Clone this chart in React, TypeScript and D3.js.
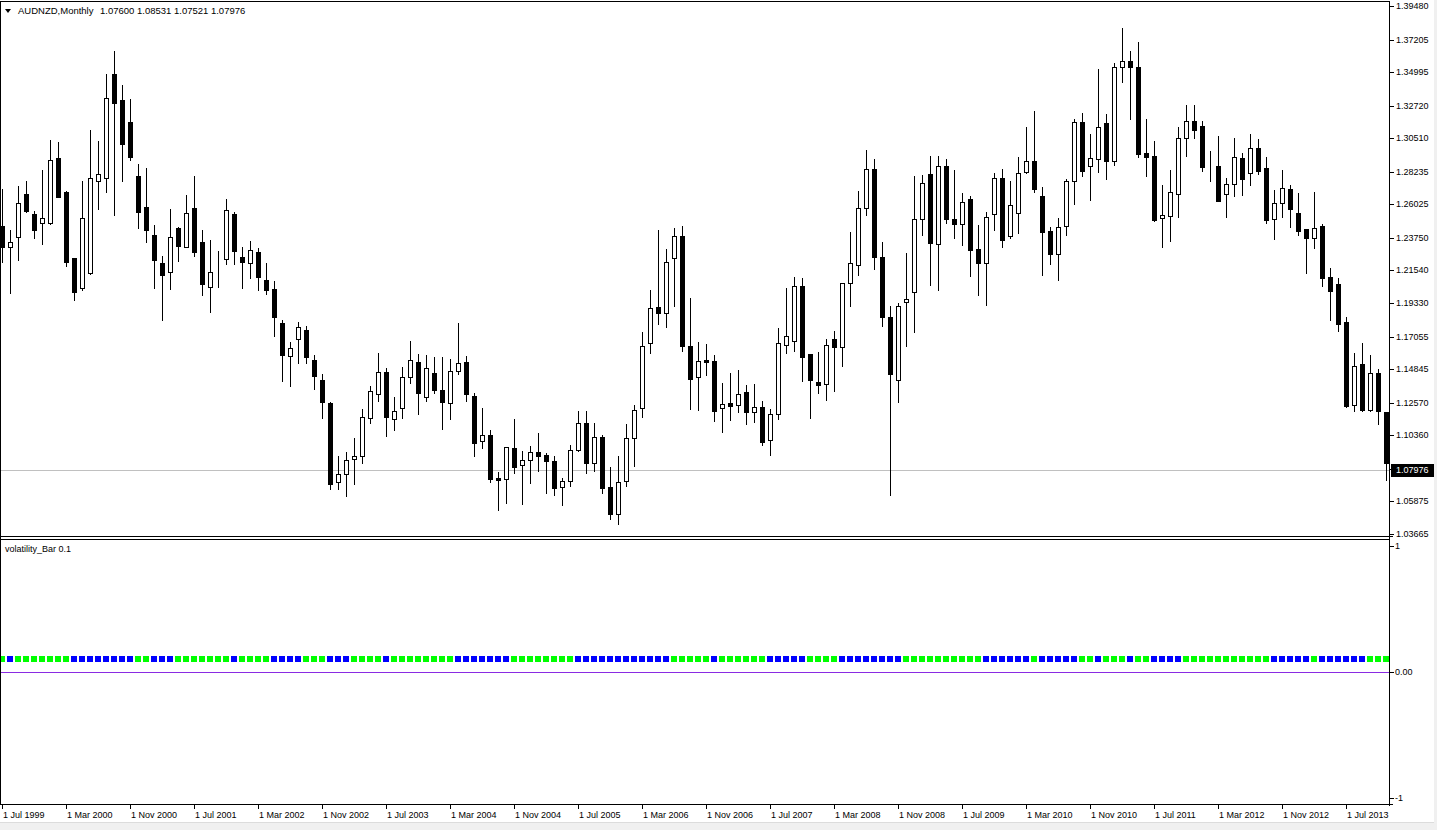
import React from "react";
import * as d3 from "d3";

// ---- Data (AUDNZD monthly, Jul 1999 .. Dec 2013) ----
const openP = [
  1.2454, 1.2316, 1.2384, 1.2674, 1.2538, 1.2477, 1.2473, 1.2917, 1.2685, 1.2239,
  1.2038, 1.2139, 1.2758, 1.2783, 1.3486, 1.3311, 1.3162, 1.2795, 1.2585, 1.2396,
  1.2204, 1.2146, 1.2442, 1.2316, 1.2578, 1.2347, 1.2041, 1.2195, 1.2230, 1.2538,
  1.2246, 1.2202, 1.2279, 1.2090, 1.2029, 1.1800, 1.1571, 1.1688, 1.1751, 1.1548,
  1.1412, 1.1256, 1.0718, 1.0772, 1.0873, 1.0894, 1.1151, 1.1314, 1.1466, 1.1144,
  1.1218, 1.1429, 1.1534, 1.1295, 1.1459, 1.1344, 1.1253, 1.1473, 1.1534, 1.1302,
  1.0999, 1.1036, 1.0746, 1.0737, 1.0950, 1.0833, 1.0870, 1.0924, 1.0900, 1.0859,
  1.0683, 1.0723, 1.0933, 1.1120, 1.0847, 1.1024, 1.0686, 1.0501, 1.0723, 1.1015,
  1.1218, 1.1660, 1.1907, 1.1863, 1.2237, 1.2386, 1.1639, 1.1429, 1.1548, 1.1541,
  1.1218, 1.1256, 1.1239, 1.1330, 1.1193, 1.1225, 1.1003, 1.1181, 1.1646, 1.1674,
  1.2050, 1.1587, 1.1398, 1.1382, 1.1688, 1.1634, 1.2066, 1.2190, 1.2575, 1.2842,
  1.2246, 1.1837, 1.1410, 1.1938, 1.2008, 1.2501, 1.2809, 1.2337, 1.2863, 1.2503,
  1.2466, 1.2638, 1.2300, 1.2206, 1.2536, 1.2781, 1.2388, 1.2547, 1.2821, 1.2898,
  1.2657, 1.2421, 1.2268, 1.2458, 1.2758, 1.3162, 1.2860, 1.2912, 1.3155, 1.2900,
  1.3533, 1.3573, 1.3533, 1.2949, 1.2930, 1.2508, 1.2526, 1.2676, 1.3050, 1.3166,
  1.3134, 1.2861, 1.2863, 1.2676, 1.2739, 1.2914, 1.2814, 1.2982, 1.2849, 1.2501,
  1.2615, 1.2706, 1.2545, 1.2433, 1.2377, 1.2456, 1.2111, 1.2059, 1.1802, 1.1244,
  1.1520, 1.1205, 1.1459, 1.1193,
];
const highP = [
  1.2704, 1.2428, 1.2727, 1.2758, 1.2559, 1.2835, 1.3036, 1.3026, 1.2690, 1.2242,
  1.2758, 1.3108, 1.3029, 1.3489, 1.3643, 1.3414, 1.3318, 1.2877, 1.2851, 1.2463,
  1.2249, 1.2573, 1.2452, 1.2667, 1.2795, 1.2428, 1.2363, 1.2286, 1.2641, 1.2552,
  1.2316, 1.2354, 1.2309, 1.2206, 1.2083, 1.1821, 1.1672, 1.1805, 1.1779, 1.1583,
  1.1454, 1.1260, 1.0898, 1.0924, 1.1017, 1.1216, 1.1368, 1.1592, 1.1494, 1.1295,
  1.1499, 1.1676, 1.1587, 1.1583, 1.1566, 1.1566, 1.1555, 1.1800, 1.1571, 1.1326,
  1.1221, 1.1069, 1.0784, 1.0960, 1.1148, 1.0929, 1.0964, 1.1052, 1.0915, 1.0894,
  1.0746, 1.0971, 1.1202, 1.1202, 1.1120, 1.1041, 1.0821, 1.0898, 1.1111, 1.1242,
  1.1737, 1.2020, 1.2431, 1.2302, 1.2442, 1.2456, 1.1968, 1.1669, 1.1657, 1.1583,
  1.1391, 1.1459, 1.1478, 1.1377, 1.1384, 1.1267, 1.1214, 1.1765, 1.2038, 1.2111,
  1.2106, 1.1590, 1.1601, 1.1688, 1.1742, 1.2070, 1.2414, 1.2692, 1.2970, 1.2910,
  1.2344, 1.1914, 1.1933, 1.2272, 1.2797, 1.2802, 1.2930, 1.2930, 1.2910, 1.2835,
  1.2681, 1.2657, 1.2463, 1.2550, 1.2816, 1.2842, 1.2760, 1.2926, 1.3127, 1.3237,
  1.2720, 1.2446, 1.2512, 1.2776, 1.3180, 1.3225, 1.3080, 1.3522, 1.3216, 1.3561,
  1.3802, 1.3643, 1.3706, 1.3180, 1.3033, 1.2734, 1.2837, 1.3124, 1.3277, 1.3277,
  1.3166, 1.2965, 1.3066, 1.2781, 1.3052, 1.2952, 1.3078, 1.3045, 1.2924, 1.2697,
  1.2835, 1.2734, 1.2681, 1.2436, 1.2688, 1.2468, 1.2171, 1.2104, 1.1837, 1.1594,
  1.1662, 1.1583, 1.1489, 1.1197,
];
const lowP = [
  1.2213, 1.2003, 1.2225, 1.2552, 1.2372, 1.2335, 1.2470, 1.2652, 1.2183, 1.1957,
  1.2020, 1.2132, 1.2568, 1.2688, 1.2533, 1.2762, 1.2902, 1.2445, 1.2349, 1.2038,
  1.1821, 1.2031, 1.2220, 1.2313, 1.2253, 1.1985, 1.1875, 1.2045, 1.2199, 1.2195,
  1.2038, 1.2101, 1.2020, 1.1992, 1.1711, 1.1403, 1.1368, 1.1524, 1.1524, 1.1349,
  1.1151, 1.0672, 1.0672, 1.0625, 1.0707, 1.0847, 1.1120, 1.1267, 1.1029, 1.1074,
  1.1151, 1.1389, 1.1179, 1.1267, 1.1323, 1.1078, 1.1144, 1.1450, 1.1267, 1.0894,
  1.0947, 1.0718, 1.0527, 1.0578, 1.0782, 1.0567, 1.0714, 1.0796, 1.0644, 1.0634,
  1.0562, 1.0695, 1.0929, 1.0777, 1.0796, 1.0648, 1.0468, 1.0433, 1.0695, 1.0831,
  1.1162, 1.1594, 1.1793, 1.1770, 1.1910, 1.1611, 1.1216, 1.1209, 1.1443, 1.1134,
  1.1055, 1.1137, 1.1193, 1.1111, 1.1125, 1.0968, 1.0900, 1.1144, 1.1592, 1.1606,
  1.1405, 1.1151, 1.1323, 1.1274, 1.1335, 1.1506, 1.1914, 1.2125, 1.2529, 1.2162,
  1.1777, 1.0630, 1.1263, 1.1641, 1.1735, 1.2398, 1.2055, 1.2020, 1.2475, 1.2377,
  1.2330, 1.2115, 1.1985, 1.1921, 1.2431, 1.2314, 1.2377, 1.2405, 1.2814, 1.2688,
  1.2120, 1.2199, 1.2092, 1.2398, 1.2608, 1.2797, 1.2634, 1.2821, 1.2776, 1.2872,
  1.3435, 1.3183, 1.2926, 1.2797, 1.2487, 1.2314, 1.2354, 1.2517, 1.2933, 1.3054,
  1.2830, 1.2762, 1.2622, 1.2517, 1.2657, 1.2664, 1.2734, 1.2807, 1.2475, 1.2370,
  1.2517, 1.2452, 1.2398, 1.2139, 1.2307, 1.2050, 1.1816, 1.1744, 1.1228, 1.1198,
  1.1200, 1.1200, 1.1116, 1.0730,
];
const closeP = [
  1.2316, 1.2349, 1.2610, 1.2559, 1.2431, 1.2510, 1.2902, 1.2655, 1.2213, 1.2010,
  1.2510, 1.2781, 1.2807, 1.3323, 1.3288, 1.3015, 1.2926, 1.2552, 1.2431, 1.2227,
  1.2120, 1.2382, 1.2323, 1.2545, 1.2281, 1.2062, 1.2143, 1.2199, 1.2564, 1.2288,
  1.2213, 1.2291, 1.2113, 1.2024, 1.1837, 1.1578, 1.1629, 1.1770, 1.1564, 1.1436,
  1.1260, 1.0704, 1.0772, 1.0868, 1.0894, 1.1158, 1.1335, 1.1466, 1.1158, 1.1202,
  1.1431, 1.1545, 1.1323, 1.1492, 1.1342, 1.1260, 1.1473, 1.1527, 1.1314, 1.0987,
  1.1036, 1.0742, 1.0735, 1.0957, 1.0824, 1.0868, 1.0924, 1.0898, 1.0859, 1.0681,
  1.0725, 1.0936, 1.1120, 1.0845, 1.1022, 1.0681, 1.0501, 1.0718, 1.1017, 1.1211,
  1.1641, 1.1898, 1.1863, 1.2209, 1.2386, 1.1639, 1.1419, 1.1538, 1.1536, 1.1200,
  1.1249, 1.1232, 1.1314, 1.1193, 1.1225, 1.0990, 1.1179, 1.1660, 1.1707, 1.2050,
  1.1564, 1.1408, 1.1380, 1.1646, 1.1634, 1.2066, 1.2202, 1.2578, 1.2842, 1.2243,
  1.1837, 1.1450, 1.1912, 1.1959, 1.2503, 1.2746, 1.2342, 1.2863, 1.2501, 1.2466,
  1.2617, 1.2295, 1.2206, 1.2515, 1.2781, 1.2358, 1.2597, 1.2814, 1.2898, 1.2704,
  1.2417, 1.2268, 1.2446, 1.2760, 1.3162, 1.2830, 1.2914, 1.3127, 1.2900, 1.3533,
  1.3573, 1.3536, 1.2947, 1.2926, 1.2499, 1.2529, 1.2685, 1.3050, 1.3166, 1.3106,
  1.2858, 1.2865, 1.2627, 1.2739, 1.2921, 1.2776, 1.2982, 1.2830, 1.2499, 1.2615,
  1.2711, 1.2568, 1.2424, 1.2377, 1.2442, 1.2106, 1.2017, 1.1788, 1.1235, 1.1503,
  1.1205, 1.1459, 1.1198, 1.0847,
];
// volatility_Bar state per bar: G = lime, B = blue
const volState = (
  "G" + "B" + "GGGGGGG" + "BBBBBBBB" + "GG" + "BBB" + "GGGGGGG" + "B" + "GGGG" +
  "BBBB" + "GGG" + "BBB" + "GGGG" + "B" + "GGGGGGGG" + "BBBBBBB" + "GGGGGGGG" +
  "BBBBBBBBBBBB" + "GGGGG" + "B" + "GGGGGG" + "BBBBB" + "GGGG" + "BBBBBBBB" +
  "GGGGGGGGGG" + "BBBBBB" + "G" + "BBBBB" + "GG" + "B" + "GGG" + "B" + "GG" +
  "BBBB" + "GGGGGGGGGGG" + "BBBBB" + "G" + "BBBBBB" + "GGG"
).split("");
const volLevel = 0.1;

const priceTicks = [
  1.3948, 1.37205, 1.34995, 1.3272, 1.3051, 1.28235, 1.26025, 1.2375, 1.2154,
  1.1933, 1.17055, 1.14845, 1.1257, 1.1036, 1.08085, 1.05875, 1.03665,
];
const priceMin = 1.03665;
const priceMax = 1.3948;
const lastPrice = 1.07976;
const indTicks = [1, 0, -1];
const indTickLabels = ["1", "0.00", "-1"];
const dateLabels = [
  "1 Jul 1999", "1 Mar 2000", "1 Nov 2000", "1 Jul 2001", "1 Mar 2002", "1 Nov 2002",
  "1 Jul 2003", "1 Mar 2004", "1 Nov 2004", "1 Jul 2005", "1 Mar 2006", "1 Nov 2006",
  "1 Jul 2007", "1 Mar 2008", "1 Nov 2008", "1 Jul 2009", "1 Mar 2010", "1 Nov 2010",
  "1 Jul 2011", "1 Mar 2012", "1 Nov 2012", "1 Jul 2013",
];
const dateLabelBar = [0, 8, 16, 24, 32, 40, 48, 56, 64, 72, 80, 88, 96, 104, 112, 120, 128, 136, 144, 152, 160, 168];
const symbolText = "AUDNZD,Monthly";
const ohlcText = "1.07600 1.08531 1.07521 1.07976";
const indicatorName = "volatility_Bar 0.1";

const FONT = "'Liberation Sans', Arial, sans-serif";

export default function App() {
  const W = 1437;
  const H = 830;
  const plotR = 1390;
  const mainTop = 2;
  const mainBottom = 537;
  const indTop = 540;
  const indBottom = 805;

  const n = openP.length;
  const x = d3.scaleBand<number>().domain(d3.range(n)).range([-2, plotR]).padding(0);
  const cxOf = (i: number) => Math.round((x(i) as number) + x.bandwidth() / 2);
  const y = d3.scaleLinear().domain([priceMin, priceMax]).range([534, 6]);
  const yi = d3.scaleLinear().domain([-1, 1]).range([798, 546]);
  const ry = (v: number) => Math.round(y(v));

  const candles = d3.range(n).map((i) => {
    const o = openP[i], h = highP[i], l = lowP[i], c = closeP[i];
    const cx = cxOf(i);
    const top = ry(Math.max(o, c));
    const bot = ry(Math.min(o, c));
    const hy = ry(h);
    const ly = ry(l);
    const bull = c >= o;
    return (
      <g key={i}>
        <rect x={cx} y={hy} width={1} height={ly - hy + 1} fill="#000" />
        {bull ? (
          <rect x={cx - 1.5} y={top + 0.5} width={4} height={Math.max(bot - top, 0)} fill="#fff" stroke="#000" strokeWidth={1} />
        ) : (
          <rect x={cx - 2} y={top} width={5} height={bot - top + 1} fill="#000" />
        )}
      </g>
    );
  });

  const lastY = ry(lastPrice);
  const volY = Math.round(yi(volLevel));

  return (
    <div style={{ position: "absolute", left: 0, top: 0 }}>
      <style>{"body{margin:0}"}</style>
      <svg width={W} height={H} style={{ display: "block", background: "#fff" }} fontFamily={FONT} fontSize={9}>
        <rect x={0} y={0} width={W} height={H} fill="#fff" />
        <defs>
          <clipPath id="mainClip">
            <rect x={1} y={mainTop + 1} width={plotR - 1} height={mainBottom - mainTop - 1} />
          </clipPath>
          <clipPath id="indClip">
            <rect x={1} y={indTop + 1} width={plotR - 1} height={indBottom - indTop - 1} />
          </clipPath>
        </defs>

        {/* current price line */}
        <line x1={1} x2={plotR} y1={lastY + 0.5} y2={lastY + 0.5} stroke="#c0c0c0" strokeWidth={1} />

        <g clipPath="url(#mainClip)">{candles}</g>

        {/* title */}
        <polygon points="5,9 11,9 8,13" fill="#000" />
        <text x={18} y={14} fill="#000" fontSize={9.5}>{symbolText}</text>
        <text x={100} y={14} fill="#000" fontSize={9.5}>{ohlcText}</text>

        {/* indicator panel */}
        <line x1={1} x2={plotR} y1={Math.round(yi(0)) + 0.5} y2={Math.round(yi(0)) + 0.5} stroke="#8A2BE2" strokeWidth={1} />
        <g clipPath="url(#indClip)">
          {volState.map((s, i) => (
            <rect key={i} x={cxOf(i) - 3} y={volY - 3} width={6} height={6} fill={s === "G" ? "#00ff00" : "#0000ff"} />
          ))}
        </g>
        <text x={5} y={552} fill="#000">{indicatorName}</text>

        {/* frames */}
        <line x1={0.5} x2={0.5} y1={mainTop} y2={indBottom} stroke="#000" />
        <line x1={0} x2={plotR} y1={mainTop - 0.5} y2={mainTop - 0.5} stroke="#000" />
        <line x1={plotR - 0.5} x2={plotR - 0.5} y1={mainTop - 1} y2={indBottom + 1} stroke="#000" />
        <line x1={0} x2={plotR + 3} y1={mainBottom - 0.5} y2={mainBottom - 0.5} stroke="#000" />
        <line x1={0} x2={plotR} y1={indTop - 0.5} y2={indTop - 0.5} stroke="#000" />
        <line x1={0} x2={plotR + 3} y1={indBottom - 0.5} y2={indBottom - 0.5} stroke="#000" />

        {/* price axis */}
        {priceTicks.map((t) => {
          const ty = ry(t);
          return (
            <g key={t}>
              <line x1={plotR} x2={plotR + 4} y1={ty + 0.5} y2={ty + 0.5} stroke="#000" />
              <text x={plotR + 6} y={ty} dy="0.35em" fill="#000">{t.toFixed(5)}</text>
            </g>
          );
        })}
        <rect x={plotR + 1} y={lastY - 6} width={43} height={13} fill="#000" />
        <text x={plotR + 6} y={lastY} dy="0.35em" fill="#fff">{lastPrice.toFixed(5)}</text>

        {/* indicator axis */}
        {indTicks.map((t, i) => {
          const ty = Math.round(yi(t));
          return (
            <g key={t}>
              <line x1={plotR} x2={plotR + 4} y1={ty + 0.5} y2={ty + 0.5} stroke="#000" />
              <text x={plotR + 5} y={ty} dy="0.35em" fill="#000">{indTickLabels[i]}</text>
            </g>
          );
        })}

        {/* time axis */}
        {dateLabelBar.map((b, i) => {
          const tx = cxOf(b);
          return (
            <g key={b}>
              <line x1={tx + 0.5} x2={tx + 0.5} y1={indBottom} y2={indBottom + 4} stroke="#000" />
              <text x={tx + 1} y={818} fill="#000">{dateLabels[i]}</text>
            </g>
          );
        })}

        {/* window bottom / right strip */}
        <rect x={0} y={822} width={W} height={8} fill="#f0f0f0" />
        <line x1={0} x2={W} y1={822.5} y2={822.5} stroke="#dcdcdc" />
        <rect x={1434} y={0} width={3} height={H} fill="#f0f0f0" />
      </svg>
    </div>
  );
}
